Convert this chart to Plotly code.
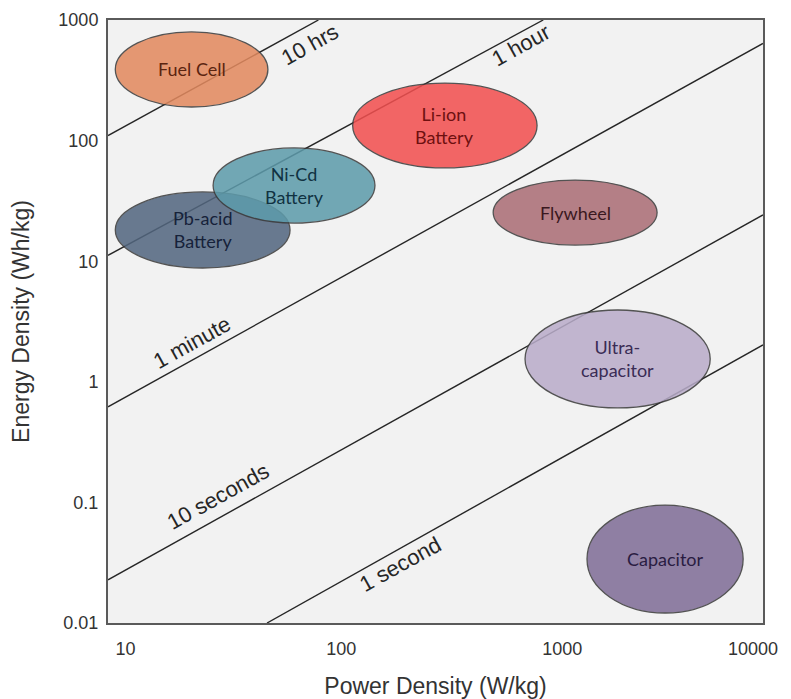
import numpy as np
import plotly.graph_objects as go

# ---- Data (Ragone chart) ----
tech_names = ["Fuel Cell", "Li-ion<br>Battery", "Pb-acid<br>Battery", "Ni-Cd<br>Battery",
              "Flywheel", "Ultra-<br>capacitor", "Capacitor"]
power_min = [10.8, 132, 10.8, 30.3, 581, 813, 1563]      # W/kg
power_max = [54, 923, 68.2, 167, 3273, 5730, 8110]       # W/kg
energy_min = [190, 59.3, 8.78, 20.7, 13.6, 0.607, 0.0121]  # Wh/kg
energy_max = [796, 300, 37.5, 86.9, 47.1, 3.94, 0.095]     # Wh/kg

# constant discharge-time lines (endpoints)
time_labels = ["10 hrs", "1 hour", "1 minute", "10 seconds", "1 second"]
line_p0 = [10, 10, 10, 10, 53.5]
line_e0 = [110, 11.2, 0.62, 0.0228, 0.01]
line_p1 = [92, 985, 10000, 10000, 10000]
line_e1 = [1000, 1000, 640, 24.2, 2.02]

x_ticks = [10, 100, 1000, 10000]
x_ticktext = ["10", "100", "1000", "10000"]
y_ticks = [0.01, 0.1, 1, 10, 100, 1000]
y_ticktext = ["0.01", "0.1", "1", "10", "100", "1000"]

# ---- styles ----
fill_colors = ["#e2895e", "#f24f4f", "#52667f", "#5d9bab", "#ab6d75", "#b9acca", "#7f6d97"]
text_colors = ["#5a2410", "#6e1010", "#16223a", "#103242", "#3a1820", "#3a2c55", "#2a1c42"]
label_pos = [(1.925, 2.80), (2.890, 2.785), (1.385, 0.322), (1.504, -0.955), (2.338, -1.519)]

# the reference's x tick labels sit slightly off their ticks: nudge them with no-break spaces
NB = "&nbsp;"
x_pad_lead = [7, 6, 7, 0]
x_pad_trail = [0, 0, 0, 4]
x_ticktext_shown = [NB * a + t + NB * b for t, a, b in zip(x_ticktext, x_pad_lead, x_pad_trail)]

fig = go.Figure()

for i in range(len(time_labels)):
    fig.add_trace(go.Scatter(
        x=[line_p0[i], line_p1[i]], y=[line_e0[i], line_e1[i]],
        mode="lines", line=dict(color="#262626", width=1.4),
        hoverinfo="skip", showlegend=False))

# ellipses (order: Pb-acid below Ni-Cd)
for i in range(len(tech_names)):
    fig.add_shape(type="circle", xref="x", yref="y",
                  x0=power_min[i], x1=power_max[i],
                  y0=energy_min[i], y1=energy_max[i],
                  fillcolor=fill_colors[i], opacity=0.86,
                  line=dict(color="#3a3a3a", width=1.3), layer="above")

# technology labels at the (geometric) centre of each ellipse; annotations on log axes take log10
for i, name in enumerate(tech_names):
    lx = 0.5 * (np.log10(power_min[i]) + np.log10(power_max[i]))
    ly = 0.5 * (np.log10(energy_min[i]) + np.log10(energy_max[i]))
    fig.add_annotation(x=lx, y=ly, xref="x", yref="y", text=name, showarrow=False,
                       font=dict(family="Lato, Noto Sans, sans-serif", size=18,
                                 color=text_colors[i]))

for i, t in enumerate(time_labels):
    fig.add_annotation(x=label_pos[i][0], y=label_pos[i][1], xref="x", yref="y",
                       text=t, showarrow=False, textangle=-29,
                       font=dict(family="Liberation Sans, Arial, sans-serif", size=22,
                                 color="#262626"))

# page body has an 8px default margin, so the figure is 8px smaller than the window
fig.update_layout(
    width=783, height=691,
    margin=dict(l=100, r=28, t=12, b=76, autoexpand=False),
    paper_bgcolor="white", plot_bgcolor="#f2f2f2",
    font=dict(family="Liberation Sans, Arial, sans-serif", color="#333333"),
)
fig.update_xaxes(type="log", range=[1, 4], tickvals=x_ticks, ticktext=x_ticktext_shown,
                 showgrid=False, zeroline=False, showline=True, mirror=True,
                 linecolor="#5a5a5a", linewidth=2, ticks="",
                 ticklabelstandoff=8, ticklabeloverflow="allow",
                 tickfont=dict(size=18, color="#333333"),
                 title=dict(text="Power Density (W/kg)", font=dict(size=23, color="#333333"),
                            standoff=20))
fig.update_yaxes(type="log", range=[-2, 3], tickvals=y_ticks, ticktext=y_ticktext,
                 showgrid=False, zeroline=False, showline=True, mirror=True,
                 linecolor="#5a5a5a", linewidth=2, ticks="",
                 ticklabelstandoff=4,
                 tickfont=dict(size=18, color="#333333"),
                 title=dict(text="Energy Density (Wh/kg)", font=dict(size=23, color="#333333"),
                            standoff=22))

fig.write_html("out.html")
